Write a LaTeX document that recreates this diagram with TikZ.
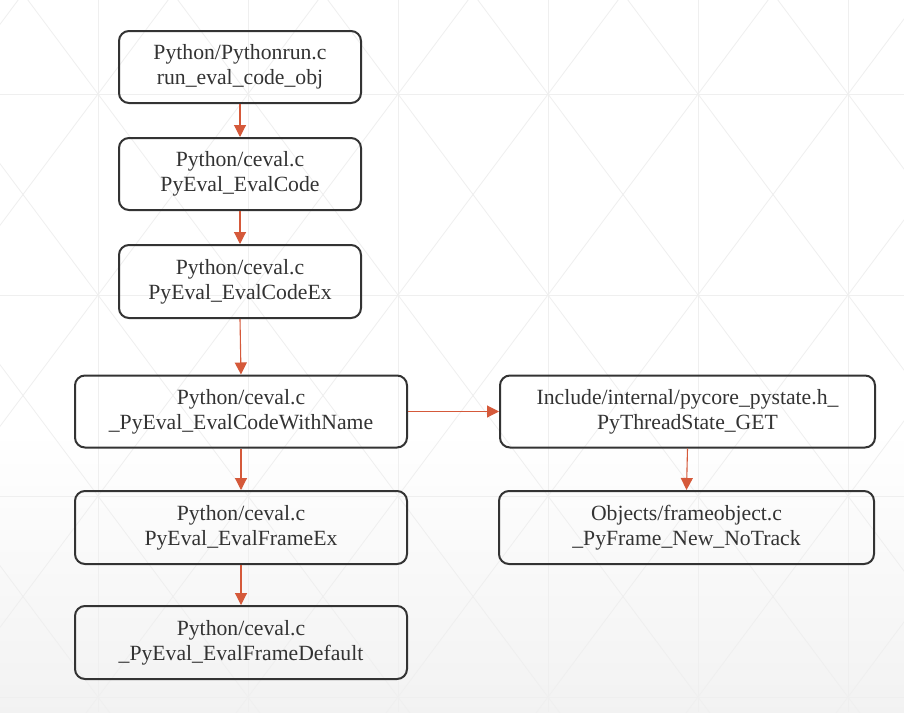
\documentclass[tikz,border=0pt]{standalone}
\usepackage{fontspec}
\setmainfont{Liberation Serif}
\usetikzlibrary{arrows.meta}
\definecolor{boxline}{HTML}{333333}
\definecolor{txt}{HTML}{333333}
\definecolor{arr}{HTML}{D5593A}
\definecolor{bgl}{HTML}{EFEFEF}
\newcommand{\twoline}[2]{\raisebox{-2pt}{\begin{tabular}{@{}c@{}}#1\\#2\end{tabular}}}
\tikzset{
  fbox/.style={draw=boxline, line width=2pt, rounded corners=10pt, fill=none,
    align=center, text=txt, inner sep=0pt, font=\fontsize{21.7}{25}\selectfont},
  conn/.style={draw=arr, line width=1.1pt, -{Triangle[width=12pt,length=12pt]}},
  bgline/.style={draw=bgl, line width=0.8pt}
}
\begin{document}
\begin{tikzpicture}[x=1pt,y=-1pt]
\useasboundingbox (0,0) rectangle (904,712);
\fill[white] (0,0) rectangle (904,712);
\shade[top color=white,bottom color=black!5] (0,430) rectangle (904,712);
\begin{scope}
\clip (0,0) rectangle (904,712);
\foreach \xx in {98,248,398,548,698,848} \draw[bgline] (\xx,0) -- (\xx,712);
\foreach \yy in {94,295,496,697} \draw[bgline] (0,\yy) -- (904,\yy);
\foreach \i in {-1,...,5} {
  \foreach \j in {-1,...,3} {
    \draw[bgline] ({98+150*\i},{94+201*\j}) -- ++(150,201);
    \draw[bgline] ({248+150*\i},{94+201*\j}) -- ++(-150,201);
  }
}
\end{scope}
\node[fbox, minimum width=242pt, minimum height=72pt] (b1) at (240,67) {\twoline{Python/Pythonrun.c}{run\_eval\_code\_obj}};
\node[fbox, minimum width=242pt, minimum height=72pt] (b2) at (240,174) {\twoline{Python/ceval.c}{PyEval\_EvalCode}};
\node[fbox, minimum width=242pt, minimum height=73pt] (b3) at (240,281.5) {\twoline{Python/ceval.c}{PyEval\_EvalCodeEx}};
\node[fbox, minimum width=332pt, minimum height=72pt] (b4) at (241,411.5) {\twoline{Python/ceval.c}{\_PyEval\_EvalCodeWithName}};
\node[fbox, minimum width=332pt, minimum height=73pt] (b5) at (241,527.5) {\twoline{Python/ceval.c}{PyEval\_EvalFrameEx}};
\node[fbox, minimum width=332pt, minimum height=73pt] (b6) at (241,642.5) {\twoline{Python/ceval.c}{\_PyEval\_EvalFrameDefault}};
\node[fbox, minimum width=375pt, minimum height=72pt] (b7) at (687.5,411.5) {\twoline{Include/internal/pycore\_pystate.h\_}{PyThreadState\_GET}};
\node[fbox, minimum width=375pt, minimum height=73pt] (b8) at (686.5,527.5) {\twoline{Objects/frameobject.c}{\_PyFrame\_New\_NoTrack}};
\draw[conn] (b1.south) -- (b2.north);
\draw[conn] (b2.south) -- (b3.north);
\draw[conn] (b3.south) -- (b4.north);
\draw[conn] (b4.south) -- (b5.north);
\draw[conn] (b5.south) -- (b6.north);
\draw[conn] (b4.east) -- (b7.west);
\draw[conn] (b7.south) -- (b8.north);
\end{tikzpicture}
\end{document}
